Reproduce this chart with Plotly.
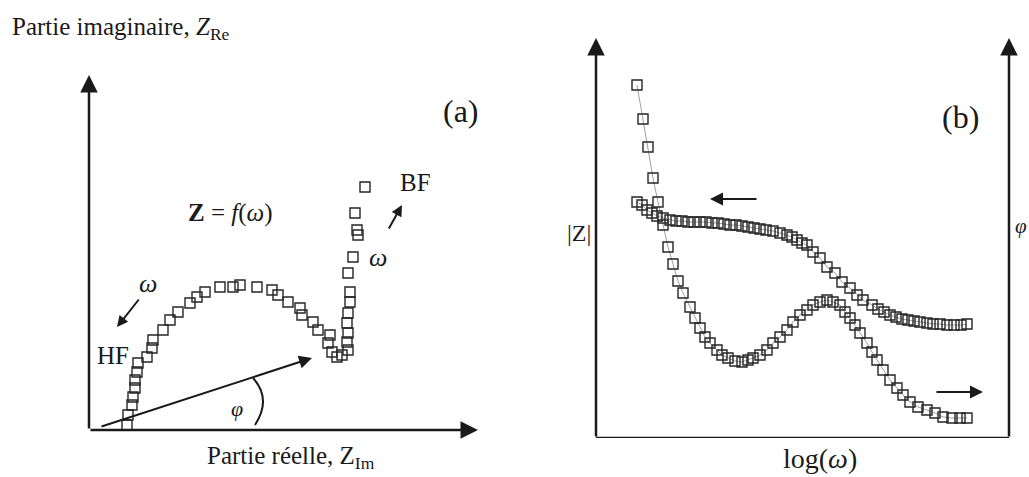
import plotly.graph_objects as go

# ---------------- data (arbitrary units) ----------------
# Panel (a): Nyquist diagram
nyq_re = [38, 39, 43, 44, 46, 46, 48, 49, 58, 63, 64, 74, 81, 89, 101, 108, 116, 131, 144, 151,
          168, 183, 189, 199, 211, 213, 224, 229, 241, 239, 243, 248, 253, 259, 258, 259, 258, 259, 261, 261,
          259, 264, 269, 268, 266, 276]
nyq_im = [5, 15, 25, 33, 42, 50, 58, 67, 73, 82, 90, 100, 110, 118, 127, 133, 138, 143, 143, 145,
          143, 140, 135, 128, 122, 115, 108, 100, 95, 87, 78, 73, 75, 80, 88, 97, 107, 117, 128, 138,
          157, 173, 195, 200, 217, 243]

# Panel (b): Bode diagram
logw_1 = [41, 47, 52, 57, 62, 67, 72, 77, 82, 87, 94, 99, 104, 109, 114, 121, 126, 132, 139, 146,
          152, 157, 164, 171, 177, 184, 191, 197, 204, 211, 217, 224, 231, 237, 244, 249, 254, 259, 264, 271,
          276, 281, 287, 294, 301, 307, 314, 322, 331, 339, 347, 356, 364, 371]
val_1 = [353, 319, 291, 260, 236, 213, 191, 174, 157, 145, 131, 120, 110, 101, 95, 88, 83, 80, 77, 76,
         78, 80, 83, 88, 95, 101, 108, 116, 123, 128, 133, 136, 138, 136, 133, 126, 120, 113, 105, 95,
         86, 78, 68, 58, 50, 43, 36, 31, 28, 25, 21, 20, 20, 20]

logw_2 = [41, 46, 51, 56, 61, 67, 74, 80, 86, 92, 98, 104, 110, 116, 122, 128, 134, 140, 146, 152,
          158, 164, 170, 177, 184, 191, 196, 201, 206, 211, 217, 224, 231, 239, 246, 254, 261, 267,
          276, 282, 288, 294, 300, 306, 312, 318, 324, 331, 337, 344, 351, 358, 365, 371]
val_2 = [236, 233, 228, 225, 222, 220, 218, 217, 217, 216, 216, 216, 216, 215, 215, 214, 213, 213, 212, 211,
         210, 209, 208, 207, 205, 203, 201, 198, 195, 193, 186, 180, 171, 165, 156, 150, 143, 138,
         133, 129, 126, 123, 121, 119, 118, 117, 116, 115, 114, 114, 113, 113, 113, 114]

# ---------------- layout geometry ----------------
W, H = 1029, 477
A_X = [0, 391]
A_Y = [0, 355]
B_X = [0, 413]
B_Y = [0, 400]

FONT = "Liberation Serif"
INK = "#1a1a1a"
MK = dict(symbol="square-open", size=10, color="#262626", line=dict(width=1.4, color="#262626"))

fig = go.Figure()

fig.add_trace(go.Scatter(x=nyq_re, y=nyq_im, mode="markers", marker=MK,
                         xaxis="x", yaxis="y", cliponaxis=False, showlegend=False))
fig.add_trace(go.Scatter(x=logw_1, y=val_1, mode="lines+markers", marker=MK,
                         line=dict(color="#888888", width=0.8),
                         xaxis="x2", yaxis="y2", cliponaxis=False, showlegend=False))
fig.add_trace(go.Scatter(x=logw_2, y=val_2, mode="lines+markers", marker=MK,
                         line=dict(color="#888888", width=0.8),
                         xaxis="x2", yaxis="y2", cliponaxis=False, showlegend=False))

ann = []


def arrow(xr, yr, tip, tail, width=2.5, size=1.4, head=2):
    ann.append(dict(xref=xr, yref=yr, axref=xr, ayref=yr, x=tip[0], y=tip[1], ax=tail[0], ay=tail[1],
                    text="", showarrow=True, arrowhead=head, arrowsize=size, arrowwidth=width,
                    arrowcolor=INK, standoff=0, startstandoff=0))


def text(xr, yr, x, y, s, size, xanchor="center", yanchor="middle"):
    ann.append(dict(xref=xr, yref=yr, x=x, y=y, text=s, showarrow=False, xanchor=xanchor,
                    yanchor=yanchor, font=dict(family=FONT, size=size, color=INK)))


# panel (a) axes
arrow("x", "y", (0, A_Y[1]), (0, 0))
arrow("x", "y", (A_X[1] - 2, 0), (0, 0))
# phase vector
arrow("x", "y", (223, 72), (11, 3), width=2, size=1.3)
# frequency direction arrows
arrow("x", "y", (28, 103), (51, 132), width=2, size=1.1)
arrow("x", "y", (313, 225), (299, 200), width=2, size=1.1)

text("x", "y", 372, 319, "(a)", 32)
text("x", "y", 141, 217, "<b>Z</b> = <i>f</i>(<i>ω</i>)", 25)
text("x", "y", 326, 248, "BF", 25)
text("x", "y", 289, 173, "<i>ω</i>", 26)
text("x", "y", 59, 147, "<i>ω</i>", 26)
text("x", "y", 24, 75, "HF", 25)
text("x", "y", 148, 22, "<i>φ</i>", 22)

# panel (b) axes
arrow("x2", "y2", (0, B_Y[1]), (0, 0))
arrow("x2", "y2", (B_X[1], B_Y[1]), (B_X[1], 0))
arrow("x2", "y2", (114, 239), (162, 239), width=2, size=1.3)
arrow("x2", "y2", (387, 46), (339, 46), width=2, size=1.3)

text("x2", "y2", 364, 321, "(b)", 32)

# paper-level labels
text("paper", "paper", 10 / W, 1 - 28 / H, "Partie imaginaire, <i>Z</i><sub>Re</sub>", 25, xanchor="left")
text("paper", "paper", 291 / W, 1 - 457 / H, "Partie réelle, Z<sub>Im</sub>", 25)
text("paper", "paper", 820 / W, 1 - 458 / H, "log(<i>ω</i>)", 28)
text("paper", "paper", 579 / W, 1 - 233 / H, "|Z|", 24)
text("paper", "paper", 1013 / W, 1 - 226 / H, "<i>φ</i>", 21, xanchor="left")

shapes = [
    dict(type="line", xref="x2", yref="y2", x0=0, y0=0, x1=B_X[1], y1=0,
         line=dict(color=INK, width=2.5)),
    dict(type="path", xref="x", yref="y", path="M 166,5 Q 183,31 164,52",
         line=dict(color=INK, width=2)),
]

ax_common = dict(visible=False, fixedrange=True)
fig.update_layout(
    width=W, height=H, margin=dict(l=0, r=0, t=0, b=0),
    paper_bgcolor="white", plot_bgcolor="white",
    font=dict(family=FONT, color=INK),
    xaxis=dict(domain=[89 / W, 480 / W], range=A_X, anchor="y", **ax_common),
    yaxis=dict(domain=[(H - 430) / H, (H - 75) / H], range=A_Y, anchor="x", **ax_common),
    xaxis2=dict(domain=[596 / W, 1009 / W], range=B_X, anchor="y2", **ax_common),
    yaxis2=dict(domain=[(H - 438) / H, (H - 38) / H], range=B_Y, anchor="x2", **ax_common),
    annotations=ann, shapes=shapes, showlegend=False,
)

fig.write_html("out.html", config={"displayModeBar": False},
               post_script="document.body.style.margin='0';document.body.style.overflow='hidden';")
